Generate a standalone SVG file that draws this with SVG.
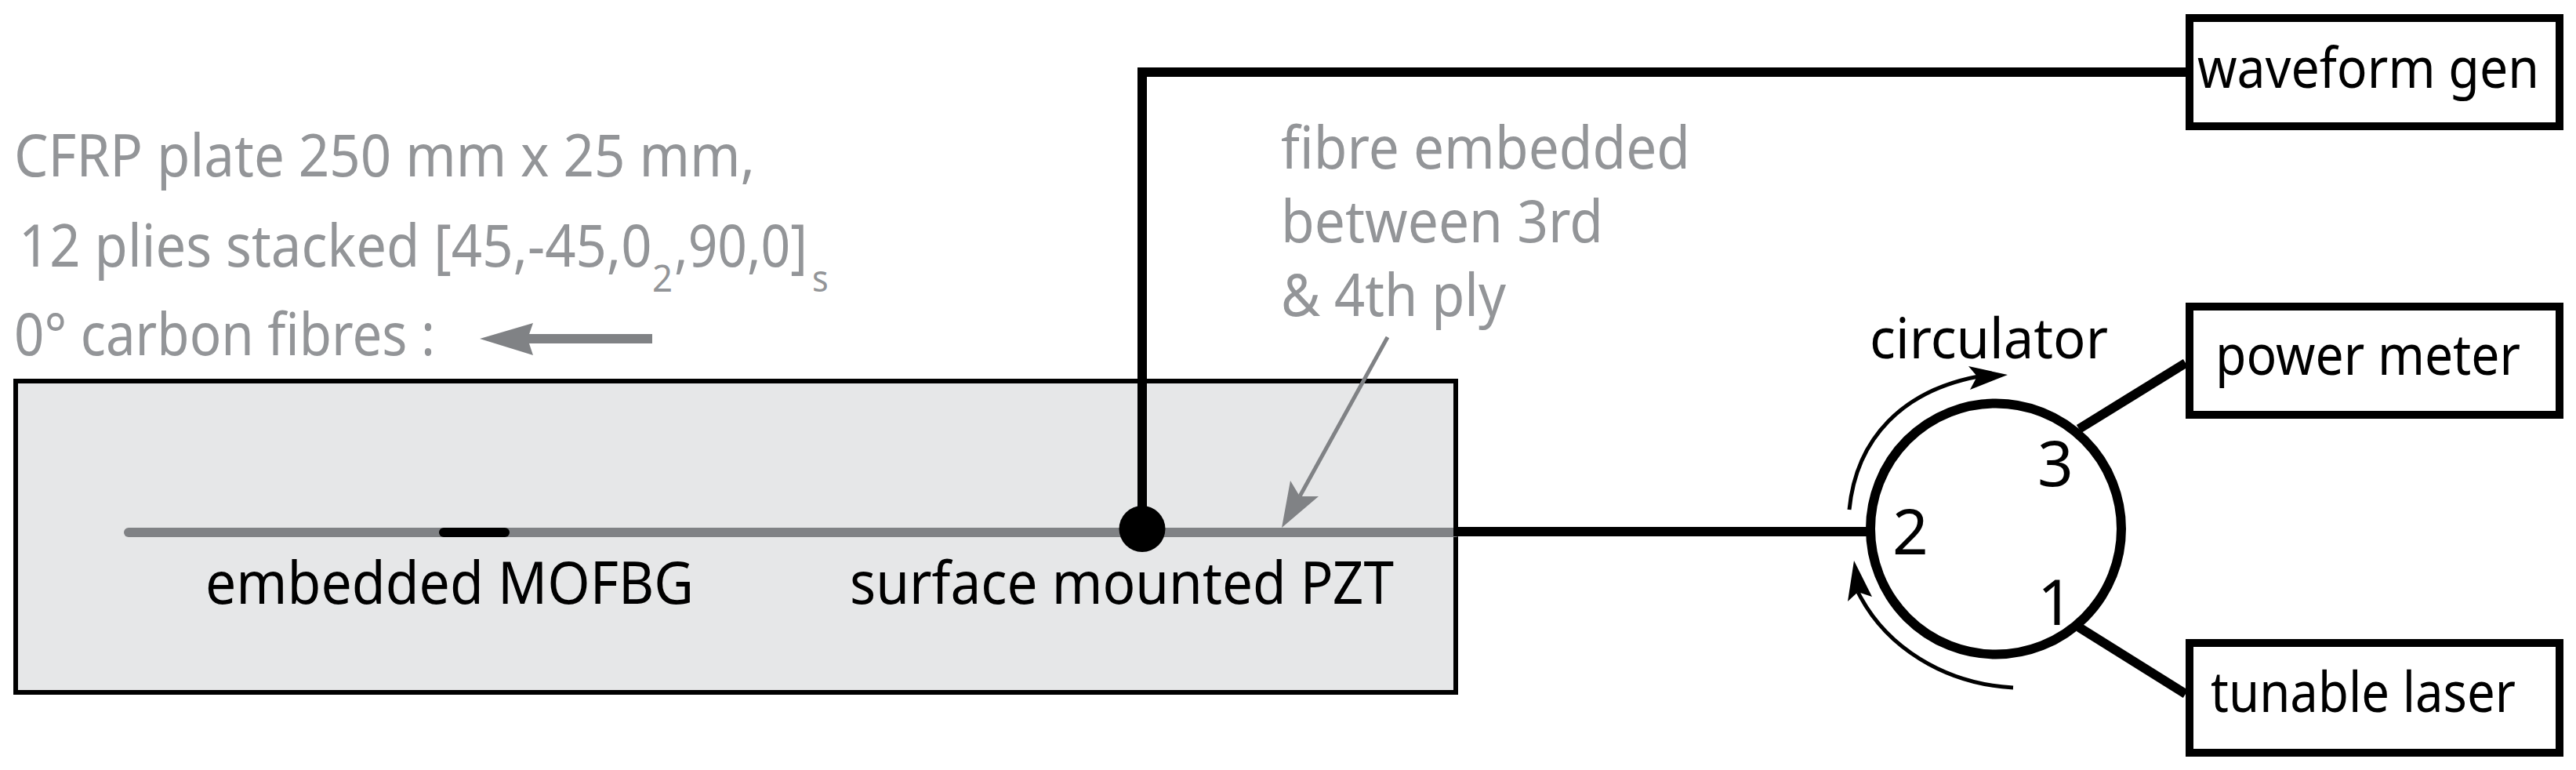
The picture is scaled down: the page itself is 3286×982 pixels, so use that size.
<svg xmlns="http://www.w3.org/2000/svg" width="3286" height="982" viewBox="0 0 3286 982">
<style>
text{font-family:"Noto Sans","Open Sans","Liberation Sans",sans-serif;font-size:74px;fill:#000}
.g{fill:#939598}
.n{font-size:80px}
.bl{font-size:71px}
.box{fill:#fff;stroke:#000;stroke-width:10}
.k{fill:none;stroke:#000;stroke-width:12}
.t{fill:none;stroke:#000;stroke-width:5}
.s{font-size:48px}
</style>
<g id="plate">
<rect x="20" y="486" width="1837" height="397" fill="#e6e7e8" stroke="#000" stroke-width="6"/>
</g>
<g id="plate-note">
<text class="g" x="18" y="225" textLength="945" lengthAdjust="spacingAndGlyphs">CFRP plate 250 mm x 25 mm,</text>
<text class="g" transform="matrix(.93 0 0 1 24 340)" x="0" y="0">12 plies stacked [45,-45,0</text>
<text class="g s" transform="matrix(.95 0 0 1 832 372)" x="0" y="0">2</text>
<text class="g" transform="matrix(.89 0 0 1 860 340)" x="0" y="0">,90,0]</text>
<text class="g s" transform="matrix(.9 0 0 1 1036 372)" x="0" y="0">s</text>
<text class="g" x="18" y="453" textLength="537" lengthAdjust="spacingAndGlyphs">0° carbon fibres :</text>
</g>
<g id="fibre-note">
<text class="g" x="1634" y="215" textLength="522" lengthAdjust="spacingAndGlyphs">fibre embedded</text>
<text class="g" x="1634" y="309" textLength="411" lengthAdjust="spacingAndGlyphs">between 3rd</text>
<text class="g" x="1634" y="403" textLength="287" lengthAdjust="spacingAndGlyphs">&amp; 4th ply</text>
</g>
<g id="connectors">
<path d="M832,432 H670" fill="none" stroke="#808285" stroke-width="12"/>
<path d="M612,432 L680,412 L673,432 L680,453 Z" fill="#808285"/>
<path d="M164,679 H1857" fill="none" stroke="#808285" stroke-width="12" stroke-linecap="round"/>
<path d="M1854,678 H2384" class="k"/>
<path d="M1457,676 V92 H2790" class="k"/>
<path d="M1770,430 L1658,633" fill="none" stroke="#808285" stroke-width="5"/>
<path d="M1635,673 L1646,613 L1658,633 L1682,633 Z" fill="#808285"/>
<path d="M2652,547 L2788,463" class="k"/>
<path d="M2652,800 L2788,885" class="k"/>
<path d="M2359,650 C2368,558 2428,498 2524,480" class="t"/>
<path d="M2561,478 L2511,467 L2522,480 L2513,497 Z" fill="#000"/>
<path d="M2568,877 C2480,872 2405,825 2370,755" class="t"/>
<path d="M2365,715 L2357,767 L2370,755 L2388,761 Z" fill="#000"/>
</g>
<g id="mofbg">
<path d="M566,679 H644" fill="none" stroke="#000" stroke-width="12" stroke-linecap="round"/>
<text x="262" y="770" textLength="623" lengthAdjust="spacingAndGlyphs">embedded MOFBG</text>
</g>
<g id="pzt">
<circle cx="1457" cy="674.5" r="29.5" fill="#000"/>
<text x="1084" y="770" textLength="694" lengthAdjust="spacingAndGlyphs">surface mounted PZT</text>
</g>
<g id="circulator">
<circle cx="2546" cy="674.5" r="160" fill="none" stroke="#000" stroke-width="12"/>
<text class="bl" x="2385" y="457" textLength="304" lengthAdjust="spacingAndGlyphs">circulator</text>
<text class="n" x="2414" y="707">2</text>
<text class="n" x="2599" y="620">3</text>
<text class="n" x="2599" y="797">1</text>
</g>
<g id="waveform-gen">
<rect class="box" x="2793" y="23" width="472" height="138"/>
<text class="bl" x="2803" y="112" textLength="436" lengthAdjust="spacingAndGlyphs">waveform gen</text>
</g>
<g id="power-meter">
<rect class="box" x="2793" y="391" width="472" height="138"/>
<text class="bl" x="2826" y="478" textLength="389" lengthAdjust="spacingAndGlyphs">power meter</text>
</g>
<g id="tunable-laser">
<rect class="box" x="2793" y="820" width="472" height="140"/>
<text class="bl" x="2820" y="908" textLength="389" lengthAdjust="spacingAndGlyphs">tunable laser</text>
</g>
</svg>
